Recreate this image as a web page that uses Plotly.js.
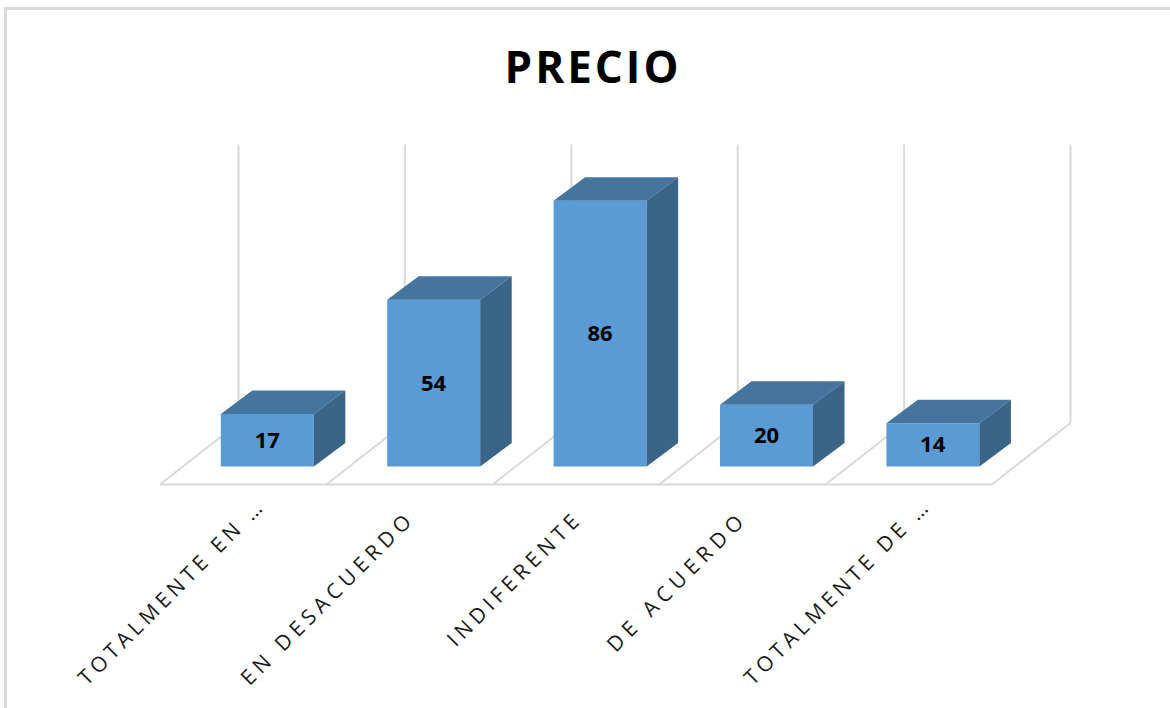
<!DOCTYPE html>
<html>
<head>
<meta charset="utf-8">
<script src="https://cdn.plot.ly/plotly-3.0.1.min.js"></script>
<style>html,body{margin:0;padding:0;background:#fff}#chart{width:1170px;height:708px}</style>
</head>
<body>
<div id="chart"></div>
<script>
// Survey answers about price
const categories = ["TOTALMENTE EN …", "EN DESACUERDO", "INDIFERENTE", "DE ACUERDO", "TOTALMENTE DE …"];
const responses = [17, 54, 86, 20, 14];

const FRONT = "#5b9bd5", TOP = "#45759f", SIDE = "#3a6488", GRID = "#d9d9d9";

// Page and plot geometry
const W = 1170, H = 708;
const unitX = 166.4, unitY = 3.09;       // pixels per category, pixels per response
const originX = 267.3, originY = 466.5;  // pixel position of first category at zero
const plotL = 150, plotR = 1090, plotT = 138, plotB = 490;

// Extruded look: how far the back of a column sits behind its front
const barWidth = 0.559;
const depthX = 31.5 / unitX, depthY = 23.5 / unitY;

// Floor and wall of the box, in data units
const floorBack = 14.1, floorFront = -5.8, wallTop = 104.2;
const gridBack = -0.173, gridFront = -0.645;
const gridIdx = [0, 1, 2, 3, 4, 5];

const topX = [], topY = [], sideX = [], sideY = [];
responses.forEach((v, i) => {
  const l = i - barWidth / 2, r = i + barWidth / 2;
  topX.push(l, r, r + depthX, l + depthX, l, null);
  topY.push(v, v, v + depthY, v + depthY, v, null);
  sideX.push(r, r + depthX, r + depthX, r, r, null);
  sideY.push(0, depthY, v + depthY, v, 0, null);
});

const line = (x0, y0, x1, y1) => ({
  type: "line", layer: "below", xref: "x", yref: "y", x0, y0, x1, y1,
  line: {color: GRID, width: 2}
});
const shapes = [];
gridIdx.forEach(k => {
  shapes.push(line(gridBack + k, floorBack, gridBack + k, wallTop));
  shapes.push(line(gridBack + k, floorBack, gridFront + k, floorFront));
});
shapes.push(line(gridFront, floorFront, gridFront + 5, floorFront));

// Outer frame along the top and left of the page
const paperX = p => (p - plotL) / (plotR - plotL);
const paperY = p => (plotB - p) / (plotB - plotT);
const frame = {color: GRID, width: 3};
shapes.push({type: "line", layer: "below", xref: "paper", yref: "paper",
  x0: paperX(5.5), x1: paperX(W), y0: paperY(8.5), y1: paperY(8.5), line: frame});
shapes.push({type: "line", layer: "below", xref: "paper", yref: "paper",
  x0: paperX(5.5), x1: paperX(5.5), y0: paperY(7), y1: paperY(H), line: frame});

const traces = [
  {type: "bar", x: categories.map((_, i) => i), y: responses, width: barWidth,
   marker: {color: FRONT, line: {width: 0}},
   text: responses.map(String), textposition: "inside", insidetextanchor: "middle",
   textangle: 0, constraintext: "none",
   insidetextfont: {family: "Open Sans", size: 22, color: "#000", weight: 700},
   hoverinfo: "skip"},
  {type: "scatter", x: topX, y: topY, mode: "lines", fill: "toself", fillcolor: TOP,
   line: {width: 0}, hoverinfo: "skip"},
  {type: "scatter", x: sideX, y: sideY, mode: "lines", fill: "toself", fillcolor: SIDE,
   line: {width: 0}, hoverinfo: "skip"}
];

const layout = {
  width: W, height: H, showlegend: false,
  paper_bgcolor: "#fff", plot_bgcolor: "rgba(0,0,0,0)",
  margin: {l: plotL, r: W - plotR, t: plotT, b: H - plotB, pad: 0},
  title: {text: "PRECIO", x: 593 / W, xanchor: "center", xref: "container", y: 1 - 68 / H, yanchor: "middle",
          font: {family: "Open Sans", size: 44, color: "#000", weight: 700}},
  xaxis: {range: [(plotL - originX) / unitX, (plotR - originX) / unitX], tickmode: "array",
          tickvals: categories.map((_, i) => i), ticktext: categories, tickangle: -45,
          showgrid: false, zeroline: false, showline: false, ticks: "",
          ticklabelstandoff: 4,
          tickfont: {family: "Open Sans", size: 21, color: "#1a1a1a"}},
  yaxis: {range: [(originY - plotB) / unitY, (originY - plotT) / unitY],
          showgrid: false, zeroline: false, showline: false, showticklabels: false, ticks: ""},
  shapes
};

// Truncated labels sit closer to their tick than the full ones
const labelNudge = [[-8, -6], [-25, 7], [-24, 7], [-25, 7], [-8, -6]];
const labelTracking = [4.4, 5.1, 4.7, 5.8, 4.4];

Plotly.newPlot("chart", traces, layout, {displayModeBar: false, staticPlot: true}).then(() => {
  // Wide tracking on the axis labels and the title
  document.querySelectorAll(".xtick text").forEach((t, i) => {
    t.style.letterSpacing = labelTracking[i] + "px";
    const [dx, dy] = labelNudge[i];
    t.setAttribute("transform", `translate(${dx},${dy}) ` + (t.getAttribute("transform") || ""));
  });
  document.querySelectorAll(".gtitle").forEach(t => t.style.letterSpacing = "3px");
  // Lift the value labels slightly above the geometric centre of each column
  document.querySelectorAll(".bars text").forEach(t => {
    t.setAttribute("transform", "translate(0,-1.5) " + (t.getAttribute("transform") || ""));
  });
});
</script>
</body>
</html>
